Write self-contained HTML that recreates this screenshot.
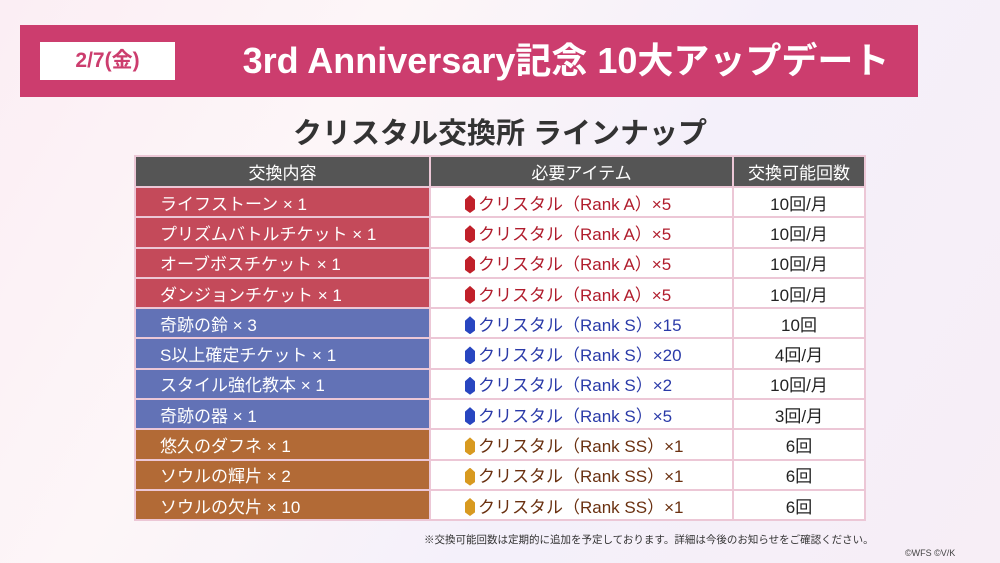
<!DOCTYPE html><html><head><meta charset="utf-8"><style>
body{margin:0;width:1000px;height:563px;overflow:hidden;font-family:"Liberation Sans","Noto Sans CJK JP",sans-serif;background:linear-gradient(120deg,#fbeef4 0%,#fdf6f8 30%,#f4f0fa 60%,#f7eef6 100%);position:relative}
.hdr{position:absolute;left:20px;top:25px;width:898px;height:72px;background:#cc3d6e}
.date{position:absolute;left:40px;top:42px;width:135px;height:38px;background:#fff;color:#cc3d6e;font-weight:bold;font-size:21px;text-align:center;line-height:38px}
.title{position:absolute;left:200px;top:25px;width:732px;height:72px;line-height:72px;text-align:center;color:#fff;font-weight:bold;font-size:36px;white-space:nowrap}
.sub{position:absolute;left:0;width:1000px;top:110px;text-align:center;font-size:29px;font-weight:bold;color:#333}
table{position:absolute;left:134px;top:155px;border-collapse:collapse;font-size:17px}
td{border:2px solid #ecc7d6;height:28.3px;padding:0}
th{background:#555;color:#fff;font-weight:normal;height:27px;border:2px solid #ecc7d6;font-size:17px}
td.a{color:#fff;padding-left:24px;width:269px}
.r td.a{background:#c44a5a}.b td.a{background:#6272b6}.o td.a{background:#b26a36}
td.m{background:#fff;padding-left:47px;width:254px;position:relative}
td.m:before{content:"";position:absolute;left:34px;top:7px;width:10px;height:18px;clip-path:polygon(50% 0,100% 25%,100% 80%,50% 100%,0 80%,0 25%)}
.r td.m{color:#b01c2c}.r td.m:before{background:#c0202a}
.b td.m{color:#2a3aa8}.b td.m:before{background:#2846c0}
.o td.m{color:#6a3010}.o td.m:before{background:#d89a20}
td.c{background:#fff;text-align:center;width:130px;color:#222}
.note{position:absolute;left:424px;top:532px;font-size:10.5px;color:#333}
.cp{position:absolute;left:905px;top:548px;font-size:9px;color:#444}
</style></head><body>
<div class="hdr"></div><div class="date">2/7(金)</div>
<div class="title">3rd Anniversary記念 10大アップデート</div>
<div class="sub">クリスタル交換所 ラインナップ</div>
<table>
<tr><th>交換内容</th><th>必要アイテム</th><th>交換可能回数</th></tr>
<tr class="r"><td class="a">ライフストーン × 1</td><td class="m">クリスタル（Rank A）×5</td><td class="c">10回/月</td></tr>
<tr class="r"><td class="a">プリズムバトルチケット × 1</td><td class="m">クリスタル（Rank A）×5</td><td class="c">10回/月</td></tr>
<tr class="r"><td class="a">オーブボスチケット × 1</td><td class="m">クリスタル（Rank A）×5</td><td class="c">10回/月</td></tr>
<tr class="r"><td class="a">ダンジョンチケット × 1</td><td class="m">クリスタル（Rank A）×5</td><td class="c">10回/月</td></tr>
<tr class="b"><td class="a">奇跡の鈴 × 3</td><td class="m">クリスタル（Rank S）×15</td><td class="c">10回</td></tr>
<tr class="b"><td class="a">S以上確定チケット × 1</td><td class="m">クリスタル（Rank S）×20</td><td class="c">4回/月</td></tr>
<tr class="b"><td class="a">スタイル強化教本 × 1</td><td class="m">クリスタル（Rank S）×2</td><td class="c">10回/月</td></tr>
<tr class="b"><td class="a">奇跡の器 × 1</td><td class="m">クリスタル（Rank S）×5</td><td class="c">3回/月</td></tr>
<tr class="o"><td class="a">悠久のダフネ × 1</td><td class="m">クリスタル（Rank SS）×1</td><td class="c">6回</td></tr>
<tr class="o"><td class="a">ソウルの輝片 × 2</td><td class="m">クリスタル（Rank SS）×1</td><td class="c">6回</td></tr>
<tr class="o"><td class="a">ソウルの欠片 × 10</td><td class="m">クリスタル（Rank SS）×1</td><td class="c">6回</td></tr>
</table>
<div class="note">※交換可能回数は定期的に追加を予定しております。詳細は今後のお知らせをご確認ください。</div>
<div class="cp">©WFS ©V/K</div>
</body></html>
